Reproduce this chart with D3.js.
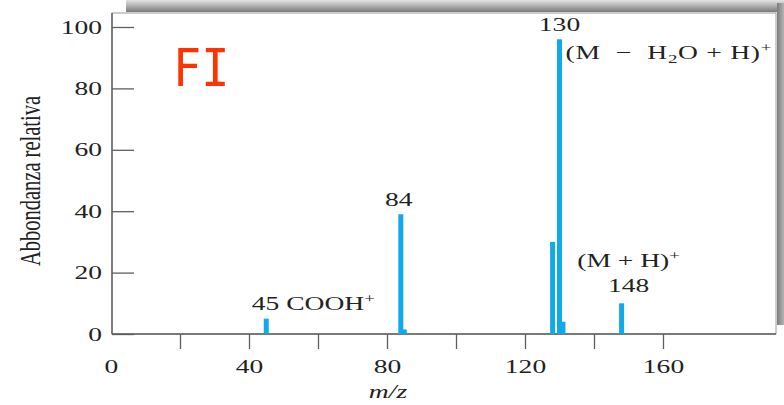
<!DOCTYPE html>
<html>
<head>
<meta charset="utf-8">
<script src="https://cdn.jsdelivr.net/npm/d3@7"></script>
<style>
  html, body { margin: 0; padding: 0; background: #fff; }
  svg { display: block; }
  text.serif { font-family: "Liberation Serif", "Times New Roman", serif; fill: #222; }
</style>
</head>
<body>
<svg id="chart" width="784" height="405"></svg>
<script>
// Peak list of the FI mass spectrum (m/z, relative abundance %)
const mz        = [45, 84, 85, 128, 130, 131, 148];
const abundance = [5, 39, 1.5, 30, 96, 4, 10];

// Axis ticks
const xTickValues  = [0, 20, 40, 60, 80, 100, 120, 140, 160];
const xTickLabels  = [0, 40, 80, 120, 160];
const yTickValues  = [0, 20, 40, 60, 80, 100];

const W = 784, H = 405;
const box = { left: 112, right: 776, top: 13, bottom: 334 };
const SX = 1.45;          // horizontal stretch applied to all serif text
const FS = 19;            // base font size
const barColor = "#12a9ea";
const axisColor = "#5e5e5e";

const svg = d3.select("#chart");

const x = d3.scaleLinear().domain([0, 160]).range([111, 663]);
const y = d3.scaleLinear().domain([0, 100]).range([box.bottom, 27]);

// ---- drop shadow behind the plot frame
const defs = svg.append("defs");
const gTop = defs.append("linearGradient").attr("id", "shTop")
  .attr("x1", 0).attr("y1", 0).attr("x2", 0).attr("y2", 1);
gTop.append("stop").attr("offset", "0%").attr("stop-color", "#e4e4e4");
gTop.append("stop").attr("offset", "100%").attr("stop-color", "#7a7a7a");
const gRight = defs.append("linearGradient").attr("id", "shRight")
  .attr("x1", 0).attr("y1", 0).attr("x2", 1).attr("y2", 0);
gRight.append("stop").attr("offset", "0%").attr("stop-color", "#7c7c7c");
gRight.append("stop").attr("offset", "100%").attr("stop-color", "#b4b4b4");

svg.append("rect").attr("x", 126).attr("y", 0)
  .attr("width", W - 126).attr("height", 12).attr("fill", "url(#shTop)");
svg.append("rect").attr("x", box.right + 1).attr("y", 3)
  .attr("width", W - box.right - 1).attr("height", 322).attr("fill", "url(#shRight)");

// ---- plot frame
svg.append("rect")
  .attr("x", box.left).attr("y", box.top)
  .attr("width", box.right - box.left).attr("height", box.bottom - box.top)
  .attr("fill", "#fff").attr("stroke", "#9a9a9a").attr("stroke-width", 1);

// ---- helper for horizontally stretched serif text
function sText(parent, px, py, anchor) {
  return parent.append("text")
    .attr("class", "serif")
    .attr("transform", `translate(${px},${py}) scale(${SX},1)`)
    .attr("text-anchor", anchor || "middle")
    .attr("font-size", FS);
}

// ---- y axis (ticks point into the plot)
const yAxis = svg.append("g")
  .attr("transform", `translate(${box.left},0)`)
  .call(d3.axisLeft(y).tickValues(yTickValues).tickSize(-22).tickPadding(0).tickFormat(d3.format("d")));
yAxis.select(".domain").remove();
yAxis.selectAll(".tick line").attr("stroke", axisColor).attr("stroke-width", 1.3);
yAxis.selectAll(".tick text")
  .attr("class", "serif")
  .attr("font-size", FS)
  .attr("x", -10 / SX)
  .attr("transform", `scale(${SX},1)`);

// ---- x axis (ticks point down, labels every 40)
const xAxis = svg.append("g")
  .attr("transform", `translate(0,${box.bottom})`)
  .call(d3.axisBottom(x).tickValues(xTickValues).tickSize(15)
    .tickFormat(d => xTickLabels.includes(d) ? d : ""));
xAxis.select(".domain").remove();
xAxis.selectAll(".tick line").attr("stroke", axisColor).attr("stroke-width", 1.3)
  .filter(d => d === 0).remove();
xAxis.selectAll(".tick text")
  .attr("class", "serif")
  .attr("font-size", FS)
  .attr("y", 39).attr("dy", 0)
  .attr("transform", `scale(${SX},1)`);

// axis lines
svg.append("line").attr("x1", box.left).attr("x2", box.left)
  .attr("y1", box.top).attr("y2", box.bottom)
  .attr("stroke", axisColor).attr("stroke-width", 1.4);
svg.append("line").attr("x1", box.left).attr("x2", box.right)
  .attr("y1", box.bottom).attr("y2", box.bottom)
  .attr("stroke", axisColor).attr("stroke-width", 1.4);

// ---- peaks
svg.append("g").selectAll("rect")
  .data(mz.map((m, i) => ({ m, v: abundance[i] })))
  .join("rect")
  .attr("x", d => x(d.m) - 2.5)
  .attr("width", 5)
  .attr("y", d => y(d.v))
  .attr("height", d => y(0) - y(d.v))
  .attr("fill", barColor);

// ---- axis titles
sText(svg, 388, 398).attr("font-style", "italic").text("m/z");
svg.append("text")
  .attr("class", "serif")
  .attr("transform", `translate(40,181) scale(${SX},1) rotate(-90)`)
  .attr("text-anchor", "middle").attr("font-size", 20.5)
  .text("Abbondanza relativa");

// ---- peak annotations
const peakValue = m => abundance[mz.indexOf(m)];

sText(svg, x(130), y(peakValue(130)) - 8).text("130");
sText(svg, x(84) - 2, y(peakValue(84)) - 8).text("84");
sText(svg, x(148) + 7, y(peakValue(148)) - 11).text("148");

// 45 COOH+
{
  const t = sText(svg, x(45) - 14.5, y(peakValue(45)) - 9, "start");
  t.append("tspan").text("45 COOH");
  t.append("tspan").attr("font-size", 13).attr("dy", -7).text("+");
}

// (M − H2O + H)+
{
  const t = sText(svg, x(130) + 6, y(peakValue(130)) + 20, "start")
    .attr("letter-spacing", 0.5)
    .style("white-space", "pre");
  t.append("tspan").text("(M  \u2212  H");
  t.append("tspan").attr("font-size", 13).attr("dy", 4).text("2");
  t.append("tspan").attr("dy", -4).text("O + H)");
  t.append("tspan").attr("font-size", 13).attr("dy", -7).text("+");
}

// (M + H)+
{
  const t = sText(svg, x(148) + 7, y(peakValue(148)) - 36, "middle");
  t.append("tspan").text("(M + H)");
  t.append("tspan").attr("font-size", 13).attr("dy", -7).text("+");
}

// ---- ionization mode tag
svg.append("text")
  .attr("transform", "translate(173,86) scale(0.9,1)")
  .style("font-family", "'DejaVu Sans Mono', monospace")
  .style("font-size", "52px")
  .style("fill", "#ff3300")
  .text("FI");
</script>
</body>
</html>
